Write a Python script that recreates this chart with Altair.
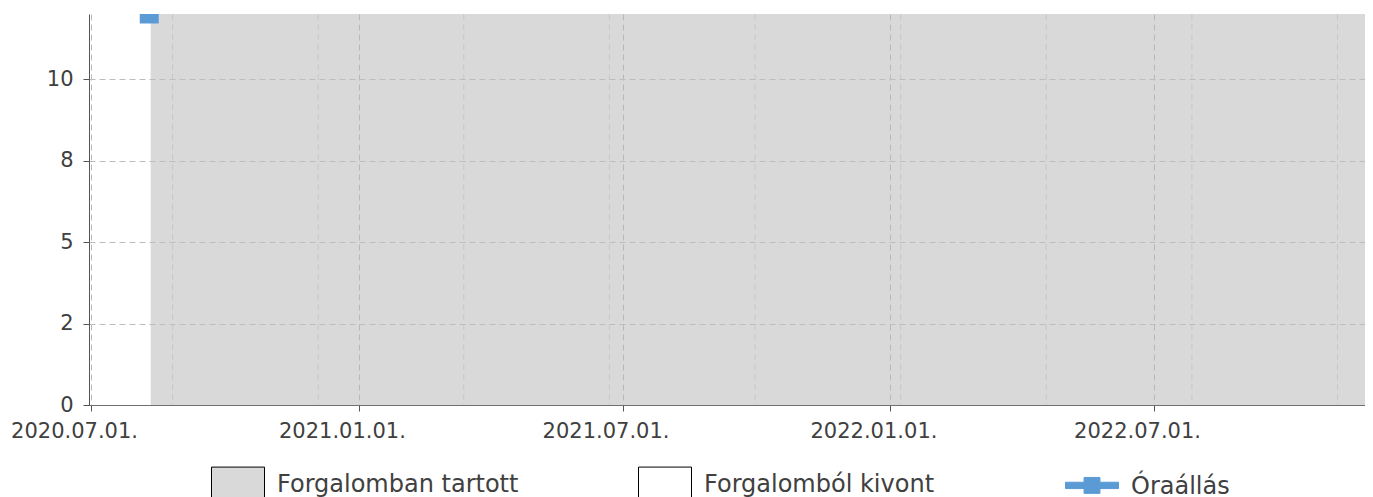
import altair as alt
import pandas as pd

# ---- data ----
statuses = ["Forgalomban tartott", "Forgalomból kivont", "Óraállás"]
status_fills = ["#d9d9d9", "#ffffff", "#5b9bd5"]
status_strokes = ["#000000", "#000000", "#5b9bd5"]
status_shapes = [
    "M-1,-0.68H1V0.52H-1Z",
    "M-1,-0.68H1V0.52H-1Z",
    "M-1,-0.18H1V0.06H-1Z M-0.3,-0.36H0.3V0.24H-0.3Z",
]

period_start = ["2020-06-29T15:00", "2020-08-11"]
period_end = ["2020-08-11", "2022-11-28T09:36"]
period_status = ["Forgalomból kivont", "Forgalomban tartott"]

reading_dates = ["2020-08-10"]
reading_values = [12.0]
reading_status = ["Óraállás"]

x_domain = ["2020-06-29T15:00", "2022-11-22T21:00"]
major_ticks = ["2020-07-01", "2021-01-01", "2021-07-01", "2022-01-01", "2022-07-01"]
minor_ticks = ["2020-08-26", "2020-12-04", "2021-03-14", "2021-06-22", "2021-09-30",
               "2022-01-08", "2022-04-18", "2022-07-27", "2022-11-04"]
y_domain = [0, 12]
y_ticks = [0, 2.5, 5, 7.5, 10]
y_labels = ["0", "2", "5", "8", "10"]


def ms(s):
    return int(pd.Timestamp(s, tz="UTC").value // 10**6)


periods = pd.DataFrame({
    "start": [ms(s) for s in period_start],
    "end": [ms(s) for s in period_end],
    "status": period_status,
})
readings = pd.DataFrame({
    "date": [ms(s) for s in reading_dates],
    "value": reading_values,
    "status": reading_status,
})
minor = pd.DataFrame({"date": [ms(s) for s in minor_ticks]})
legend_df = pd.DataFrame({"status": statuses})

FONT = "DejaVu Sans"
TXT = "#404040"

label_expr = "datum.label"
for v, lab in zip(y_ticks, y_labels):
    label_expr = f"datum.value == {v} ? '{lab}' : (" + label_expr + ")"

x_scale = alt.Scale(type="utc", domain=[ms(d) for d in x_domain], nice=False)
y_scale = alt.Scale(domain=y_domain, nice=False, zero=True)

fill_scale = alt.Scale(domain=statuses, range=status_fills)
stroke_scale = alt.Scale(domain=statuses, range=status_strokes)
shape_scale = alt.Scale(domain=statuses, range=status_shapes)

legend = alt.Legend(
    title=None,
    orient="none",
    legendX=122,
    legendY=444,
    direction="horizontal",
    columns=3,
    gridAlign="all",
    columnPadding=117,
    symbolSize=2809,
    symbolStrokeWidth=1,
    symbolOpacity=1,
    labelFont=FONT,
    labelFontSize=24,
    labelColor=TXT,
    labelOffset=12,
    labelLimit=500,
    padding=0,
)

x_axis = alt.Axis(
    values=[ms(d) for d in major_ticks],
    format="%Y.%m.%d.",
    labelFont=FONT, labelFontSize=21, labelColor=TXT,
    labelOffset=-17, labelPadding=9,
    tickSize=6, tickColor="#555555",
    domainColor="#707070",
    grid=True, gridColor="#b8b8b8", gridDash=[6, 4],
    title=None, zindex=1, labelFlush=False, labelOverlap=False,
)
y_axis = alt.Axis(
    values=y_ticks,
    labelExpr=label_expr,
    labelFont=FONT, labelFontSize=21, labelColor=TXT,
    labelPadding=10,
    tickSize=6, tickColor="#555555",
    domainColor="#555555",
    grid=True, gridColor="#bdbdbd", gridDash=[6, 4],
    title=None, zindex=1,
)

legend_layer = alt.Chart(legend_df).mark_point(filled=True, opacity=1).encode(
    fill=alt.Fill("status:N", scale=fill_scale, legend=legend),
    stroke=alt.Stroke("status:N", scale=stroke_scale, legend=legend),
    shape=alt.Shape("status:N", scale=shape_scale, legend=legend),
).transform_filter("false")

rects = alt.Chart(periods).mark_rect(strokeWidth=0, opacity=1).encode(
    x=alt.X("start:T", scale=x_scale, axis=x_axis),
    x2="end:T",
    fill=alt.Fill("status:N", scale=fill_scale, legend=legend),
)

minor_rules = alt.Chart(minor).mark_rule(color="#c8c8c8", strokeDash=[6, 4], strokeWidth=1).encode(
    x=alt.X("date:T", scale=x_scale, axis=x_axis),
)

points = alt.Chart(readings).mark_point(
    shape="square", filled=True, size=361, opacity=1, clip=True
).encode(
    x=alt.X("date:T", scale=x_scale, axis=x_axis),
    y=alt.Y("value:Q", scale=y_scale, axis=y_axis),
    fill=alt.Fill("status:N", scale=fill_scale, legend=legend),
)

chart = alt.layer(legend_layer, rects, minor_rules, points).properties(
    width=1276,
    height=391,
    padding={"left": 81, "top": 6, "right": 0, "bottom": 92},
    autosize=alt.AutoSizeParams(type="none"),
    background="#ffffff",
).configure_view(strokeWidth=0)

chart.save("out.html", embed_options={"renderer": "svg", "actions": False})
